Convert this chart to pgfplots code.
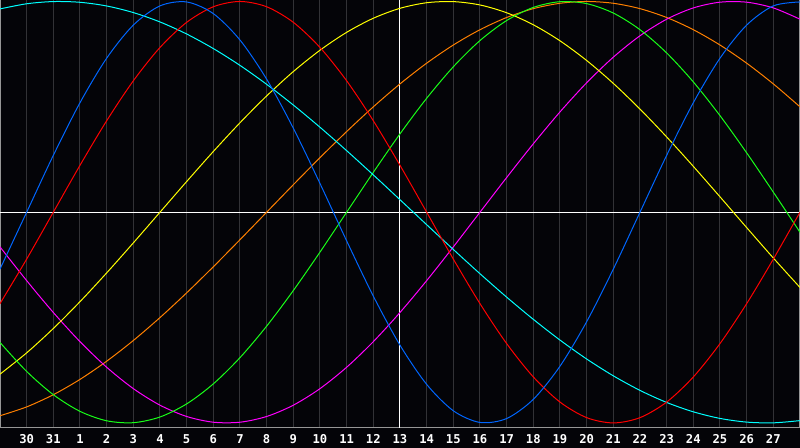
\documentclass[border=0pt]{standalone}
\usepackage{fontspec}
\setmonofont{DejaVu Sans Mono}
\usepackage{pgfplots}
\pgfplotsset{compat=1.18}

\definecolor{bg}{RGB}{4,4,8}
\definecolor{gridc}{RGB}{50,50,54}
\definecolor{frame}{RGB}{150,150,150}
\definecolor{cPhys}{RGB}{0,102,255}
\definecolor{cEmo}{RGB}{255,0,0}
\definecolor{cInt}{RGB}{24,255,24}
\definecolor{cIntu}{RGB}{255,0,255}
\definecolor{cAes}{RGB}{255,255,0}
\definecolor{cAwa}{RGB}{255,128,0}
\definecolor{cSpi}{RGB}{0,255,255}

\begin{document}
\begin{tikzpicture}
\fill[bg] (0,-10pt) rectangle (400pt,214pt);
\begin{axis}[
  at={(0,0)}, anchor=south west,
  scale only axis, width=400pt, height=214pt,
  xmin=0, xmax=30, ymin=-1.024, ymax=1.007,
  xtick={1,...,29},
  xticklabels={30,31,1,2,3,4,5,6,7,8,9,10,11,12,13,14,15,16,17,18,19,20,21,22,23,24,25,26,27},
  ytick=\empty,
  major tick length=0pt,
  xmajorgrids,
  grid style={gridc, line width=0.5pt},
  axis line style={frame, line width=0.5pt},
  xticklabel style={font=\ttfamily\bfseries\fontsize{6.1}{7}\selectfont, text=white,
    anchor=base, yshift=-7.6pt, inner sep=0pt},
  every axis plot/.append style={line width=0.5pt, smooth},
]
% today marker and zero line
\addplot[white, sharp plot] coordinates {(15,-1.1) (15,1.1)};
\addplot[white, sharp plot] coordinates {(0,0) (30,0)};

% awareness (48 d)
\addplot[cAwa] coordinates {
(0,-0.9659) (1,-0.9239) (2,-0.8660) (3,-0.7934) (4,-0.7071) (5,-0.6088)
(6,-0.5) (7,-0.3827) (8,-0.2588) (9,-0.1305) (10,0) (11,0.1305)
(12,0.2588) (13,0.3827) (14,0.5) (15,0.6088) (16,0.7071) (17,0.7934)
(18,0.8660) (19,0.9239) (20,0.9659) (21,0.9914) (22,1) (23,0.9914)
(24,0.9659) (25,0.9239) (26,0.8660) (27,0.7934) (28,0.7071) (29,0.6088) (30,0.5)};

% intuitive (38 d)
\addplot[cIntu] coordinates {
(0,-0.1646) (1,-0.3247) (2,-0.4759) (3,-0.6142) (4,-0.7357) (5,-0.8372)
(6,-0.9158) (7,-0.9694) (8,-0.9966) (9,-0.9966) (10,-0.9694) (11,-0.9158)
(12,-0.8372) (13,-0.7357) (14,-0.6142) (15,-0.4759) (16,-0.3247) (17,-0.1646)
(18,0) (19,0.1646) (20,0.3247) (21,0.4759) (22,0.6142) (23,0.7357)
(24,0.8372) (25,0.9158) (26,0.9694) (27,0.9966) (28,0.9966) (29,0.9694) (30,0.9158)};

% aesthetic (43 d)
\addplot[cAes] coordinates {
(0,-0.7686) (1,-0.6674) (2,-0.5518) (3,-0.4245) (4,-0.2881) (5,-0.1456)
(6,0) (7,0.1456) (8,0.2881) (9,0.4245) (10,0.5518) (11,0.6674)
(12,0.7686) (13,0.8536) (14,0.9204) (15,0.9675) (16,0.9940) (17,0.9993)
(18,0.9834) (19,0.9464) (20,0.8893) (21,0.8133) (22,0.7199) (23,0.6112)
(24,0.4894) (25,0.3572) (26,0.2174) (27,0.0730) (28,-0.0730) (29,-0.2174) (30,-0.3572)};

% intellectual (33 d)
\addplot[cInt] coordinates {
(0,-0.6182) (1,-0.7557) (2,-0.8660) (3,-0.9450) (4,-0.9898) (5,-0.9989)
(6,-0.9718) (7,-0.9096) (8,-0.8146) (9,-0.6901) (10,-0.5406) (11,-0.3717)
(12,-0.1893) (13,0) (14,0.1893) (15,0.3717) (16,0.5406) (17,0.6901)
(18,0.8146) (19,0.9096) (20,0.9718) (21,0.9989) (22,0.9898) (23,0.9450)
(24,0.8660) (25,0.7557) (26,0.6182) (27,0.4582) (28,0.2817) (29,0.0951) (30,-0.0951)};

% spiritual (53 d)
\addplot[cSpi] coordinates {
(0,0.9646) (1,0.9890) (2,0.9996) (3,0.9961) (4,0.9786) (5,0.9473)
(6,0.9028) (7,0.8456) (8,0.7765) (9,0.6966) (10,0.6068) (11,0.5085)
(12,0.4031) (13,0.2920) (14,0.1769) (15,0.0592) (16,-0.0592) (17,-0.1769)
(18,-0.2920) (19,-0.4031) (20,-0.5085) (21,-0.6068) (22,-0.6966) (23,-0.7765)
(24,-0.8456) (25,-0.9028) (26,-0.9473) (27,-0.9786) (28,-0.9961) (29,-0.9996) (30,-0.9890)};

% emotional (28 d)
\addplot[cEmo] coordinates {
(0,-0.4339) (1,-0.2225) (2,0) (3,0.2225) (4,0.4339) (5,0.6235)
(6,0.7818) (7,0.9010) (8,0.9749) (9,1) (10,0.9749) (11,0.9010)
(12,0.7818) (13,0.6235) (14,0.4339) (15,0.2225) (16,0) (17,-0.2225)
(18,-0.4339) (19,-0.6235) (20,-0.7818) (21,-0.9010) (22,-0.9749) (23,-1)
(24,-0.9749) (25,-0.9010) (26,-0.7818) (27,-0.6235) (28,-0.4339) (29,-0.2225) (30,0)};

% physical (23 d)
\addplot[cPhys] coordinates {
(0,-0.2698) (1,0) (2,0.2698) (3,0.5196) (4,0.7308) (5,0.8879)
(6,0.9791) (7,0.9977) (8,0.9423) (9,0.8170) (10,0.6311) (11,0.3984)
(12,0.1362) (13,-0.1362) (14,-0.3984) (15,-0.6311) (16,-0.8170) (17,-0.9423)
(18,-0.9977) (19,-0.9791) (20,-0.8879) (21,-0.7308) (22,-0.5196) (23,-0.2698)
(24,0) (25,0.2698) (26,0.5196) (27,0.7308) (28,0.8879) (29,0.9791) (30,0.9977)};
\end{axis}
\pgfresetboundingbox
\path[use as bounding box] (0,-10pt) rectangle (400pt,214pt);
\end{tikzpicture}
\end{document}
